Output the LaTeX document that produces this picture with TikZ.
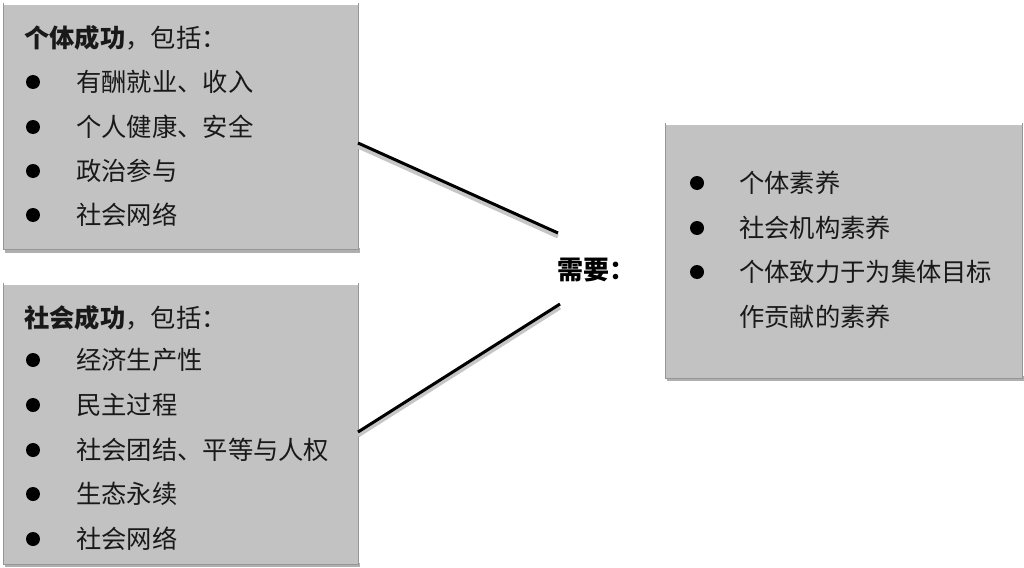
\documentclass[tikz,border=0pt]{standalone}
\usepackage{fontspec}
\setmainfont{Noto Sans CJK SC}
\newfontfamily\cjk{Noto Sans CJK SC}
\definecolor{boxgray}{RGB}{194,194,194}
\definecolor{edgegray}{RGB}{150,150,150}
\definecolor{shadowgray}{RGB}{175,175,175}
\definecolor{hlgray}{RGB}{198,198,198}
\definecolor{txt}{RGB}{25,25,25}
\begin{document}
\begin{tikzpicture}[x=1pt,y=-1pt,
  panel/.style={fill=boxgray,draw=edgegray,line width=1.2pt},
  itemtxt/.style={anchor=west,inner sep=0pt,font=\cjk\fontsize{25.3}{27}\selectfont,text=txt},
  bul/.style={circle,fill=black,inner sep=0pt,minimum size=14pt},
  conn/.style={line width=3pt,black},
  connhl/.style={line width=4pt,hlgray}
]
\useasboundingbox (0,0) rectangle (1024,567);
\fill[white] (0,0) rectangle (1024,567);
% shadows
\fill[shadowgray] (5,248) rectangle (360,253);
\fill[shadowgray] (5,563) rectangle (360,567);
\fill[shadowgray] (667,376) rectangle (1024,381);
% panels
\node[panel,minimum width=355pt,minimum height=246pt,anchor=north west,inner sep=0pt] (p1) at (3,3) {};
\node[panel,minimum width=355pt,minimum height=281pt,anchor=north west,inner sep=0pt] (p2) at (3,283) {};
\node[panel,minimum width=357pt,minimum height=255pt,anchor=north west,inner sep=0pt] (p3) at (665,123) {};
% top highlight lines
\draw[white,line width=1.5pt] ([xshift=1pt,yshift=-1pt]p1.north west) -- ([xshift=-1pt,yshift=-1pt]p1.north east);
\draw[white,line width=1.5pt] ([xshift=1pt,yshift=-1pt]p2.north west) -- ([xshift=-1pt,yshift=-1pt]p2.north east);
\draw[white,line width=1.5pt] ([xshift=1pt,yshift=-1pt]p3.north west) -- ([xshift=-1pt,yshift=-1pt]p3.north east);
% panel 1
\node[itemtxt] (t1) at (24,38) {{\bfseries 个体成功}，包括：};
\foreach \y/\s [count=\i] in {82/有酬就业、收入,127/个人健康、安全,171/政治参与,215/社会网络}{
  \node[bul] (b1\i) at (33,\y) {};
  \node[itemtxt] (a1\i) at (76,\y) {\s};
}
% panel 2
\node[itemtxt] (t2) at (24,318) {{\bfseries 社会成功}，包括：};
\foreach \y/\s [count=\i] in {360/经济生产性,405/民主过程,450/社会团结、平等与人权,494/生态永续,539/社会网络}{
  \node[bul] (b2\i) at (33,\y) {};
  \node[itemtxt] (a2\i) at (76,\y) {\s};
}
% panel 3
\foreach \y/\s [count=\i] in {183/个体素养,228/社会机构素养,272/个体致力于为集体目标}{
  \node[bul] (b3\i) at (697,\y) {};
  \node[itemtxt] (a3\i) at (739,\y) {\s};
}
\node[itemtxt] (a34) at (739,317) {作贡献的素养};
% centre label
\node[anchor=west,inner sep=0pt,font=\cjk\bfseries\fontsize{26}{28}\selectfont] (need) at (557,270) {需要：};
% connectors
\coordinate (s1) at (358,143);
\coordinate (e1) at (558,233);
\coordinate (s2) at (358,432);
\coordinate (e2) at (560,304);
\draw[connhl] ([yshift=-3.5pt]s1) -- ([yshift=-3.5pt]e1);
\draw[conn] (s1) -- (e1);
\draw[connhl] ([yshift=-3.5pt]s2) -- ([yshift=-3.5pt]e2);
\draw[conn] (s2) -- (e2);
\end{tikzpicture}
\end{document}
